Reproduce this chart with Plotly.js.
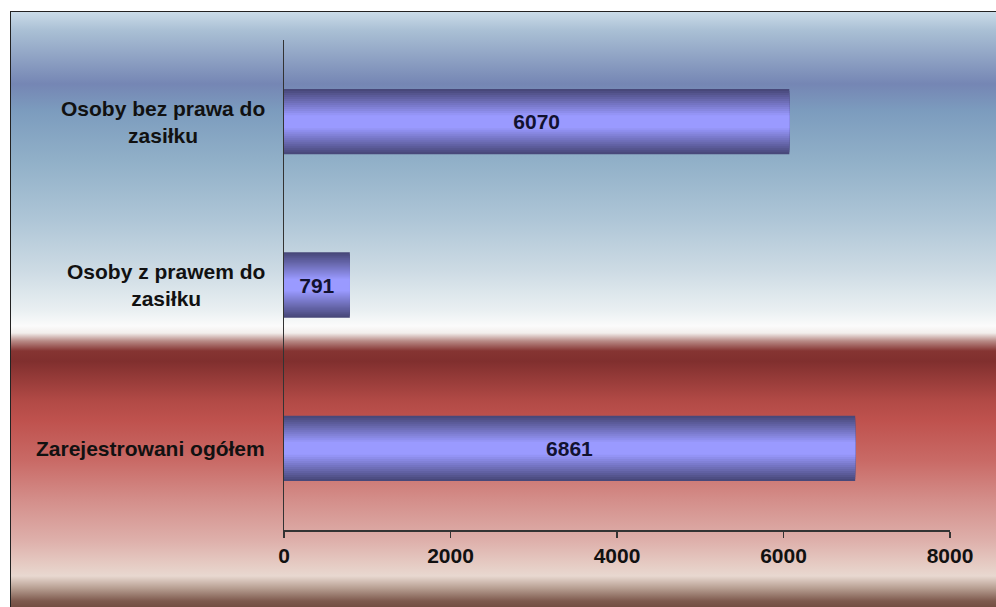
<!DOCTYPE html>
<html>
<head>
<meta charset="utf-8">
<script src="https://cdn.plot.ly/plotly-3.0.1.min.js"></script>
<style>
  html, body { margin: 0; padding: 0; background: #ffffff; overflow: hidden; width: 996px; height: 607px; }
  #frame {
    position: absolute; left: 10px; top: 11px; width: 1000px; height: 610px;
    border-top: 1.5px solid #222; border-left: 1.5px solid #222;
    background: linear-gradient(to bottom,
      #cadbe8 0px, #a9bfd4 19px, #7586b4 72px, #7c9cbe 99px, #91b0c8 149px,
      #afc6d7 209px, #cddbe4 259px, #eaf0f2 299px, #fbfbfb 314px, #f2eeec 321px,
      #b88a86 329px, #853432 339px, #802f2e 349px, #b24a46 389px, #bf524e 409px,
      #c96a66 449px, #d48f8b 489px, #deb0ab 529px, #e6cdc5 554px, #e8d8d0 564px,
      #b8a093 576px, #7e5a4e 589px, #6a4438 600px);
  }
  #chart { position: absolute; left: 0; top: 0; width: 996px; height: 607px; }
</style>
</head>
<body>
<div id="frame"></div>
<div id="chart"></div>
<script>
const categories = ['Zarejestrowani ogółem', 'Osoby z prawem do zasiłku', 'Osoby bez prawa do zasiłku'];
const categoryLabels = ['Zarejestrowani ogółem', 'Osoby z prawem do<br>zasiłku', 'Osoby bez prawa do<br>zasiłku'];
const values = [6861, 791, 6070];
const xTicks = [0, 2000, 4000, 6000, 8000];

const barWidth = 0.4;
const layers = 14;
const dark = [72, 72, 122];
const light = [154, 154, 255];

function lerp(a, b, t) { return Math.round(a + (b - a) * t); }

const fontFamily = 'Liberation Sans, Arial, sans-serif';

const traces = [];
for (let i = 0; i < layers; i++) {
  const t = i / (layers - 1);
  const c = [0, 1, 2].map(k => lerp(dark[k], light[k], t));
  traces.push({
    type: 'bar', orientation: 'h',
    x: values, y: categories,
    width: barWidth * (1 - 0.8 * t),
    marker: { color: 'rgb(' + c.join(',') + ')', line: { width: 0 } },
    hoverinfo: 'skip', showlegend: false
  });
}
traces.push({
  type: 'bar', orientation: 'h',
  x: values, y: categories, width: barWidth,
  marker: { color: 'rgba(0,0,0,0)', line: { width: 0 } },
  text: values.map(String), textposition: 'inside', insidetextanchor: 'middle',
  textangle: 0, constraintext: 'none',
  textfont: { family: fontFamily, size: 21, weight: 'bold', color: '#121230' },
  hoverinfo: 'skip', showlegend: false
});

const annotations = categories.map((c, i) => ({
  xref: 'paper', yref: 'y', x: 0, y: c, xanchor: 'right', yanchor: 'middle',
  xshift: -17, align: 'center', showarrow: false,
  text: categoryLabels[i],
  font: { family: fontFamily, size: 21, weight: 'bold', color: '#111111' }
}));

const layout = {
  width: 996, height: 607,
  margin: { l: 284, r: 46, t: 40, b: 77, pad: 0 },
  paper_bgcolor: 'rgba(0,0,0,0)', plot_bgcolor: 'rgba(0,0,0,0)',
  barmode: 'overlay',
  showlegend: false,
  xaxis: {
    range: [0, 8000], tickvals: xTicks, ticktext: xTicks.map(String),
    showgrid: false, zeroline: false, showline: true, linecolor: '#333333', linewidth: 1.5,
    ticks: 'outside', ticklen: 6, tickcolor: '#333333', tickwidth: 1.5,
    tickfont: { family: fontFamily, size: 21, weight: 'bold', color: '#111111' },
    fixedrange: true
  },
  yaxis: {
    type: 'category', categoryorder: 'array', categoryarray: categories,
    range: [-0.5, 2.5],
    showgrid: false, zeroline: false, showline: true, linecolor: '#333333', linewidth: 1.5,
    ticks: '', showticklabels: false, fixedrange: true
  },
  annotations: annotations
};

Plotly.newPlot('chart', traces, layout, { displayModeBar: false, staticPlot: true });
</script>
</body>
</html>
